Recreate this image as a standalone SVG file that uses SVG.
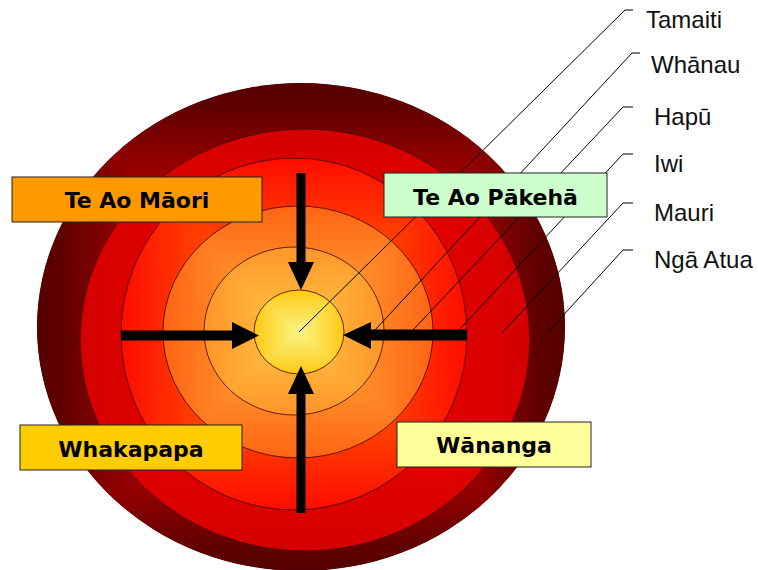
<svg xmlns="http://www.w3.org/2000/svg" width="758" height="570" viewBox="0 0 758 570">
<style>
.ol{fill:none;stroke:#3a0000;stroke-width:0.8}
.lead{fill:none;stroke:#000;stroke-width:1}
.arrow{fill:#000}
.box{stroke:#222;stroke-width:1}
.bt{font-family:"DejaVu Sans",sans-serif;font-weight:bold;font-size:22px;fill:#000;text-anchor:middle}
.lt{font-family:"Liberation Sans",Arial,sans-serif;font-size:24px;fill:#111}
</style>
<defs>
<linearGradient id="r1T" x1="0" y1="1" x2="0" y2="0"><stop offset="0" stop-color="#ff0000"/><stop offset="0.5" stop-color="#b40000"/><stop offset="0.707" stop-color="#8c0000"/><stop offset="0.9" stop-color="#600000"/><stop offset="1" stop-color="#550000"/></linearGradient>
<linearGradient id="r1B" href="#r1T" x1="0" y1="0" x2="0" y2="1"/>
<linearGradient id="r1L" href="#r1T" x1="1" y1="0" x2="0" y2="0"/>
<linearGradient id="r1R" href="#r1T" x1="0" y1="0" x2="1" y2="0"/>
<linearGradient id="r2T" x1="0" y1="1" x2="0" y2="0"><stop offset="0" stop-color="#f40000"/><stop offset="1" stop-color="#d40000"/></linearGradient>
<linearGradient id="r2B" href="#r2T" x1="0" y1="0" x2="0" y2="1"/>
<linearGradient id="r2L" href="#r2T" x1="1" y1="0" x2="0" y2="0"/>
<linearGradient id="r2R" href="#r2T" x1="0" y1="0" x2="1" y2="0"/>
<linearGradient id="r3T" x1="0" y1="1" x2="0" y2="0"><stop offset="0" stop-color="#ff8000"/><stop offset="1" stop-color="#ff0c00"/></linearGradient>
<linearGradient id="r3B" href="#r3T" x1="0" y1="0" x2="0" y2="1"/>
<linearGradient id="r3L" href="#r3T" x1="1" y1="0" x2="0" y2="0"/>
<linearGradient id="r3R" href="#r3T" x1="0" y1="0" x2="1" y2="0"/>
<linearGradient id="r4T" x1="0" y1="1" x2="0" y2="0"><stop offset="0" stop-color="#ffb23c"/><stop offset="1" stop-color="#ff6414"/></linearGradient>
<linearGradient id="r4B" href="#r4T" x1="0" y1="0" x2="0" y2="1"/>
<linearGradient id="r4L" href="#r4T" x1="1" y1="0" x2="0" y2="0"/>
<linearGradient id="r4R" href="#r4T" x1="0" y1="0" x2="1" y2="0"/>
<linearGradient id="r5T" x1="0" y1="1" x2="0" y2="0"><stop offset="0" stop-color="#ffc848"/><stop offset="1" stop-color="#ff9428"/></linearGradient>
<linearGradient id="r5B" href="#r5T" x1="0" y1="0" x2="0" y2="1"/>
<linearGradient id="r5L" href="#r5T" x1="1" y1="0" x2="0" y2="0"/>
<linearGradient id="r5R" href="#r5T" x1="0" y1="0" x2="1" y2="0"/>
<linearGradient id="r6T" x1="0" y1="1" x2="0" y2="0"><stop offset="0" stop-color="#f8f585"/><stop offset="1" stop-color="#ffc814"/></linearGradient>
<linearGradient id="r6B" href="#r6T" x1="0" y1="0" x2="0" y2="1"/>
<linearGradient id="r6L" href="#r6T" x1="1" y1="0" x2="0" y2="0"/>
<linearGradient id="r6R" href="#r6T" x1="0" y1="0" x2="1" y2="0"/>
<clipPath id="c1"><ellipse cx="301" cy="327" rx="264" ry="244"/></clipPath>
<clipPath id="c2"><ellipse cx="305" cy="340" rx="225" ry="211"/></clipPath>
<clipPath id="c3"><ellipse cx="294" cy="334" rx="173" ry="176"/></clipPath>
<clipPath id="c4"><ellipse cx="298" cy="332" rx="135" ry="126"/></clipPath>
<clipPath id="c5"><ellipse cx="294" cy="331" rx="90" ry="84"/></clipPath>
<clipPath id="c6"><ellipse cx="299" cy="332" rx="45" ry="42"/></clipPath>
</defs>

<g id="ngaatua-ring">
<g clip-path="url(#c1)">
<ellipse cx="301" cy="327" rx="264" ry="244" fill="#700000"/>
<polygon points="37,83 565,83 301,327" fill="url(#r1T)"/>
<polygon points="37,571 565,571 301,327" fill="url(#r1B)"/>
<polygon points="37,83 37,571 301,327" fill="url(#r1L)"/>
<polygon points="565,83 565,571 301,327" fill="url(#r1R)"/>
</g>
</g>
<g id="mauri-ring">
<g clip-path="url(#c2)">
<ellipse cx="305" cy="340" rx="225" ry="211" fill="#dc0000"/>
<polygon points="80,129 530,129 305,340" fill="url(#r2T)"/>
<polygon points="80,551 530,551 305,340" fill="url(#r2B)"/>
<polygon points="80,129 80,551 305,340" fill="url(#r2L)"/>
<polygon points="530,129 530,551 305,340" fill="url(#r2R)"/>
</g>
<ellipse class="ol" cx="305" cy="340" rx="225" ry="211"/>
</g>
<g id="iwi-ring">
<g clip-path="url(#c3)">
<ellipse cx="294" cy="334" rx="173" ry="176" fill="#ff2000"/>
<polygon points="121,158 467,158 294,334" fill="url(#r3T)"/>
<polygon points="121,510 467,510 294,334" fill="url(#r3B)"/>
<polygon points="121,158 121,510 294,334" fill="url(#r3L)"/>
<polygon points="467,158 467,510 294,334" fill="url(#r3R)"/>
</g>
<ellipse class="ol" cx="294" cy="334" rx="173" ry="176"/>
</g>
<g id="hapu-ring">
<g clip-path="url(#c4)">
<ellipse cx="298" cy="332" rx="135" ry="126" fill="#ff7820"/>
<polygon points="163,206 433,206 298,332" fill="url(#r4T)"/>
<polygon points="163,458 433,458 298,332" fill="url(#r4B)"/>
<polygon points="163,206 163,458 298,332" fill="url(#r4L)"/>
<polygon points="433,206 433,458 298,332" fill="url(#r4R)"/>
</g>
<ellipse class="ol" cx="298" cy="332" rx="135" ry="126"/>
</g>
<g id="whanau-ring">
<g clip-path="url(#c5)">
<ellipse cx="294" cy="331" rx="90" ry="84" fill="#ffa830"/>
<polygon points="204,247 384,247 294,331" fill="url(#r5T)"/>
<polygon points="204,415 384,415 294,331" fill="url(#r5B)"/>
<polygon points="204,247 204,415 294,331" fill="url(#r5L)"/>
<polygon points="384,247 384,415 294,331" fill="url(#r5R)"/>
</g>
<ellipse class="ol" cx="294" cy="331" rx="90" ry="84"/>
</g>
<g id="tamaiti-core">
<g clip-path="url(#c6)">
<ellipse cx="299" cy="332" rx="45" ry="42" fill="#fcdc40"/>
<polygon points="254,290 344,290 299,332" fill="url(#r6T)"/>
<polygon points="254,374 344,374 299,332" fill="url(#r6B)"/>
<polygon points="254,290 254,374 299,332" fill="url(#r6L)"/>
<polygon points="344,290 344,374 299,332" fill="url(#r6R)"/>
</g>
<ellipse class="ol" cx="299" cy="332" rx="45" ry="42"/>
</g>

<g id="connectors">
<polyline class="lead" points="299,332 625,10 633,10"/>
<polyline class="lead" points="375,330 632,53 640,53"/>
<polyline class="lead" points="413,330 623,107 633,107"/>
<polyline class="lead" points="459,330 623,154 633,154"/>
<polyline class="lead" points="502,333 623,203 633,203"/>
<polyline class="lead" points="547,333 623,250 633,250"/>
<polygon class="arrow" points="296.5,173 305.5,173 305.5,262 314,262 301,290 288,262 296.5,262"/>
<polygon class="arrow" points="296.5,513 305.5,513 305.5,394 314,394 301,366 288,394 296.5,394"/>
<polygon class="arrow" points="121,330.5 232,330.5 232,322 259,335.5 232,349 232,340.5 121,340.5"/>
<polygon class="arrow" points="467,329.5 371,329.5 371,322 343,335 371,349 371,340.5 467,340.5"/>
</g>

<g id="te-ao-maori">
<rect class="box" x="12" y="177" width="250" height="45" fill="#ff9900"/>
<text class="bt" x="137" y="208">Te Ao Māori</text>
</g>
<g id="te-ao-pakeha">
<rect class="box" x="384" y="173" width="223" height="44" fill="#ccffcc"/>
<text class="bt" x="495.5" y="205">Te Ao Pākehā</text>
</g>
<g id="whakapapa">
<rect class="box" x="20" y="425" width="222" height="45" fill="#ffcc00"/>
<text class="bt" x="131" y="457">Whakapapa</text>
</g>
<g id="wananga">
<rect class="box" x="397" y="422" width="194" height="45" fill="#ffff99"/>
<text class="bt" x="494" y="453">Wānanga</text>
</g>

<g id="labels">
<text class="lt" x="646" y="28">Tamaiti</text>
<text class="lt" x="651" y="73">Whānau</text>
<text class="lt" x="654" y="125">Hapū</text>
<text class="lt" x="654" y="172">Iwi</text>
<text class="lt" x="654" y="221">Mauri</text>
<text class="lt" x="654" y="268">Ngā Atua</text>
</g>
</svg>
